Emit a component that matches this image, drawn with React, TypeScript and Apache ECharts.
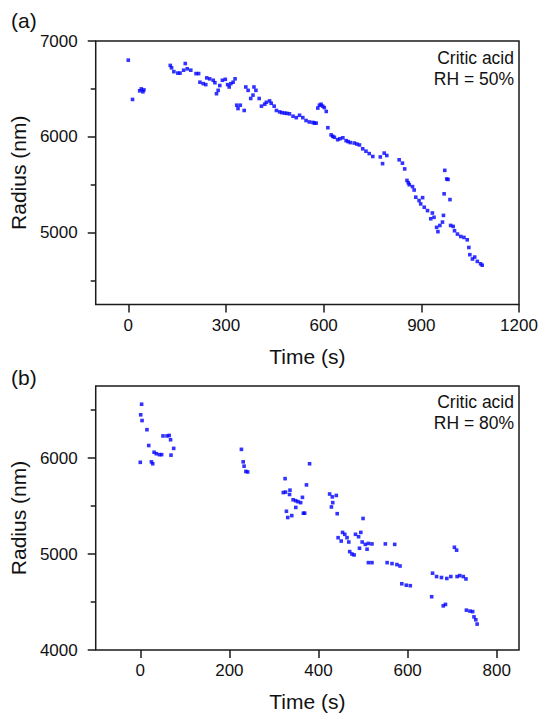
import React, { useEffect, useRef } from "react";
import * as echarts from "echarts";

// Panel (a): Critic acid, RH = 50%
const timeA = [
  0, 13, 35, 40, 45, 48,
  129, 133, 140, 152, 159, 170, 175, 181, 192, 208, 216, 220, 230, 238, 241, 250, 261, 266, 271, 276, 281, 289, 298,
  305, 310, 315, 322, 328, 333, 337, 344, 356, 361, 368, 376, 383, 386, 392,
  402, 409, 419, 424, 434, 439, 448, 455, 465, 472, 480, 487, 495,
  506, 516, 526, 536, 546, 556, 567, 572, 577, 582, 587, 592, 597,
  602, 608, 613, 623, 628, 633, 643, 650, 659, 669, 675, 682, 694,
  702, 710, 720, 730, 740, 751, 774, 781, 786, 794,
  832, 842, 849, 856, 860, 863, 873, 878, 883, 893, 898,
  904, 909, 919, 929, 934, 939, 947, 951, 957, 965, 968, 970, 972, 978, 982, 988, 990, 998,
  1002, 1011, 1021, 1031, 1041, 1046, 1049, 1057, 1064, 1072, 1082, 1087,
];
const radiusA = [
  6800, 6390, 6480, 6500, 6470, 6490,
  6745, 6720, 6680, 6665, 6665, 6695, 6765, 6710, 6695, 6660, 6660, 6570, 6555, 6545, 6615, 6605, 6590, 6565, 6450, 6485, 6535, 6590, 6600,
  6545, 6520, 6555, 6570, 6605, 6330, 6295, 6330, 6275, 6520, 6485, 6400, 6435, 6520, 6485,
  6400, 6320, 6340, 6360, 6375, 6350, 6320, 6275, 6260, 6252, 6248, 6245, 6240,
  6215, 6200, 6225, 6200, 6170, 6155, 6150, 6143, 6143, 6300, 6330, 6340, 6320,
  6305, 6265, 6095, 6020, 6005, 5995, 5970, 5980, 5990, 5960, 5950, 5940, 5935,
  5925, 5915, 5875, 5850, 5825, 5795, 5790, 5720, 5830, 5805,
  5760, 5725, 5665, 5545, 5520, 5500, 5480, 5445, 5370, 5335, 5300,
  5365, 5265, 5230, 5145, 5205, 5160, 5055, 5010, 5075, 5110, 5180, 5405, 5650, 5560, 5555, 5345, 5075, 5065,
  5020, 4985, 4960, 4950, 4925, 4845, 4770, 4725, 4745, 4700, 4675, 4660,
];

// Panel (b): Critic acid, RH = 80%
const timeB = [
  0, 1, 3, 4, 15, 19, 25, 28, 31, 36, 43, 48, 51, 60, 65, 68, 69, 75,
  227, 231, 233, 237, 241,
  321, 325, 326, 328, 331, 335, 336, 340, 343, 349, 349, 354, 360, 364, 366, 369, 373, 380,
  425, 429, 431, 432, 440, 442, 444, 451, 454, 459, 464, 468, 470, 475, 480, 483, 490, 492, 495, 498,
  500, 505, 509, 512, 512, 520, 520, 550, 554, 565, 571, 576, 583, 587, 597, 606,
  654, 656, 665, 676, 680, 685, 688, 697, 705, 710, 711, 717, 725, 731, 732, 740, 746, 749, 753, 756,
];
const radiusB = [
  5955, 6450, 6560, 6390, 6295, 6130, 5960, 5940, 6060, 6045, 6035, 6035, 6230, 6230, 6235, 6190, 6030, 6100,
  6090, 5960, 5915, 5860, 5855,
  5640, 5785, 5645, 5445, 5380, 5620, 5665, 5400, 5565, 5555, 5485, 5545, 5535, 5590, 5425, 5425, 5720, 5940,
  5625, 5490, 5595, 5535, 5610, 5420, 5170, 5135, 5225, 5205, 5170, 5125, 5025, 5000, 4990, 5205, 5180, 5060, 5225, 5125,
  5370, 5100, 5050, 5110, 4910, 5105, 4910, 5105, 4910, 4900, 5100, 4890, 4875, 4690, 4675, 4670,
  4555, 4800, 4765, 4755, 4460, 4475, 4745, 4765, 5070, 5040, 4765, 4775, 4765, 4740, 4415, 4405, 4400, 4345, 4315, 4270,
];

const xTicksA = [0, 300, 600, 900, 1200];
const xTicksB = [0, 200, 400, 600, 800];
const yTicksA = [5000, 6000, 7000];
const yMinorA = [4500, 5500, 6500];
const yTicksB = [4000, 5000, 6000];
const yMinorB = [4500, 5500, 6500];

const FONT = "Liberation Sans";
const INK = "#1a1a1a";
const plain = (v: number) => String(v);

function xAxisFor(grid: number, min: number, max: number, ticks: number[]) {
  return {
    type: "value",
    gridIndex: grid,
    position: "bottom",
    min,
    max,
    axisLine: { show: false, onZero: false },
    axisTick: { show: true, inside: false, length: 8, customValues: ticks, lineStyle: { color: INK, width: 1.5 } },
    axisLabel: { show: true, customValues: ticks, formatter: plain, fontSize: 17, color: "#111", margin: 12, fontFamily: FONT },
    splitLine: { show: false },
    name: "Time (s)",
    nameLocation: "middle",
    nameGap: 41,
    nameTextStyle: { fontSize: 21, color: "#111", fontFamily: FONT },
  };
}

function yAxisFor(grid: number, min: number, max: number, ticks: number[]) {
  return {
    type: "value",
    gridIndex: grid,
    position: "left",
    offset: 0,
    min,
    max,
    axisLine: { show: false, onZero: false },
    axisTick: { show: true, inside: false, length: 8, customValues: ticks, lineStyle: { color: INK, width: 1.5 } },
    axisLabel: { show: true, customValues: ticks, formatter: plain, fontSize: 17, color: "#111", margin: 18, fontFamily: FONT },
    splitLine: { show: false },
    name: "Radius (nm)",
    nameLocation: "middle",
    nameGap: 60,
    nameTextStyle: { fontSize: 21, color: "#111", fontFamily: FONT },
  };
}

function yMinorFor(grid: number, min: number, max: number, ticks: number[]) {
  return {
    type: "value",
    gridIndex: grid,
    position: "left",
    offset: 0,
    min,
    max,
    axisLine: { show: false, onZero: false },
    axisTick: { show: true, inside: false, length: 5, customValues: ticks, lineStyle: { color: INK, width: 1.5 } },
    axisLabel: { show: false },
    splitLine: { show: false },
  };
}

export default function App() {
  const ref = useRef<HTMLDivElement>(null);
  useEffect(() => {
    const chart = echarts.init(ref.current!, null, { renderer: "svg" });
    const dataA = timeA.map((t, i) => [t, radiusA[i]]);
    const dataB = timeB.map((t, i) => [t, radiusB[i]]);
    chart.setOption({
      animation: false,
      backgroundColor: "#ffffff",
      grid: [
        { left: 94, top: 41, width: 425, height: 263.5, show: true, borderColor: INK, borderWidth: 1.5, backgroundColor: "transparent" },
        { left: 94, top: 386, width: 425, height: 264, show: true, borderColor: INK, borderWidth: 1.5, backgroundColor: "transparent" },
      ],
      xAxis: [xAxisFor(0, -100, 1200, xTicksA), xAxisFor(1, -100, 850, xTicksB)],
      yAxis: [
        yAxisFor(0, 4250, 7000, yTicksA),
        yMinorFor(0, 4250, 7000, yMinorA),
        yAxisFor(1, 4000, 6750, yTicksB),
        yMinorFor(1, 4000, 6750, yMinorB),
      ],
      series: [
        {
          type: "scatter",
          xAxisIndex: 0,
          yAxisIndex: 0,
          data: dataA,
          symbol: "rect",
          symbolSize: 3.6,
          itemStyle: { color: "#0000ff" },
        },
        {
          type: "scatter",
          xAxisIndex: 1,
          yAxisIndex: 2,
          data: dataB,
          symbol: "rect",
          symbolSize: 3.6,
          itemStyle: { color: "#0000ff" },
        },
      ],
      graphic: [
        { type: "text", left: 11, top: 10, style: { text: "(a)", fontSize: 21, fill: "#111", fontFamily: FONT } },
        { type: "text", left: 11, top: 367, style: { text: "(b)", fontSize: 21, fill: "#111", fontFamily: FONT } },
        {
          type: "text",
          x: 514,
          y: 47,
          style: { text: "Critic acid\nRH = 50%", fontSize: 17.5, lineHeight: 21.5, align: "right", verticalAlign: "top", fill: "#111", fontFamily: FONT },
        },
        {
          type: "text",
          x: 514,
          y: 391,
          style: { text: "Critic acid\nRH = 80%", fontSize: 17.5, lineHeight: 21.5, align: "right", verticalAlign: "top", fill: "#111", fontFamily: FONT },
        },
      ],
    });
    return () => chart.dispose();
  }, []);
  return <div ref={ref} style={{ position: "fixed", left: 0, top: 0, width: 541, height: 716 }} />;
}
